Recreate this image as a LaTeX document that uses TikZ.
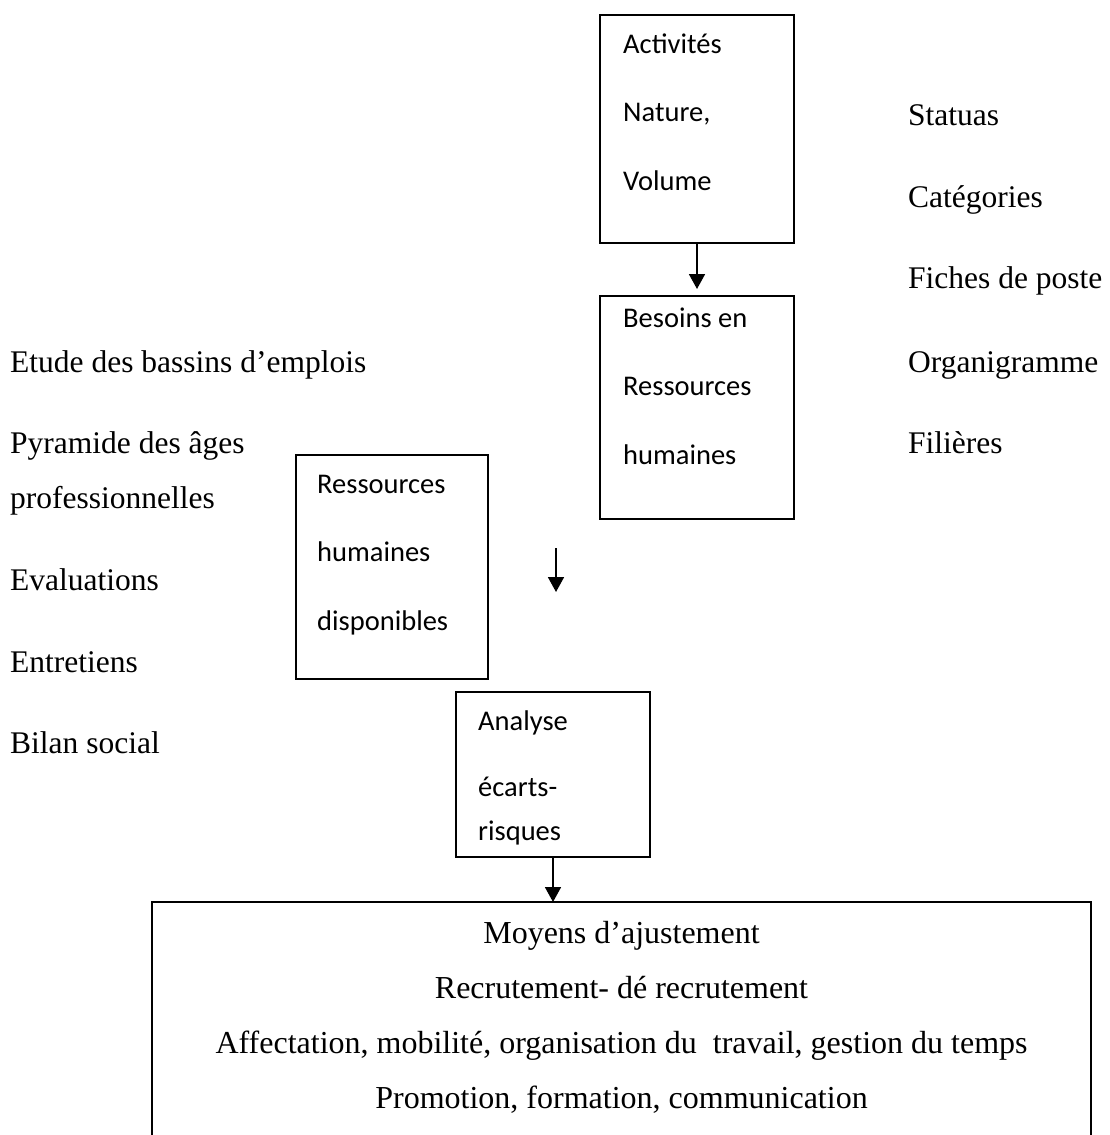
\documentclass[tikz,border=0pt]{standalone}
\usepackage{fontspec}
\setmainfont{Liberation Serif}
\newfontfamily\calibri{Carlito}
\usetikzlibrary{arrows.meta,positioning}

\tikzset{
  box/.style={draw, line width=1.5pt, inner sep=0pt, outer sep=0pt, anchor=north west},
  boxtext/.style={font=\calibri\fontsize{28.5}{68.5}\selectfont, align=left, anchor=base west, inner sep=0pt},
  side/.style={font=\fontsize{31.5}{40}\selectfont, anchor=base west, inner sep=0pt},
  flow/.style={-{Triangle[width=16pt,length=15pt]}, line width=1.8pt},
}

\begin{document}
\begin{tikzpicture}[x=1pt, y=-1pt]
  \useasboundingbox (0,0) rectangle (1110,1135);
  \clip (0,0) rectangle (1110,1135);

  % boxes of the flow
  \node[box, minimum width=194pt, minimum height=228pt] (act) at (600,15) {};
  \node[box, minimum width=194pt, minimum height=223pt] (bes) at (600,296) {};
  \node[box, minimum width=192pt, minimum height=224pt] (dispo) at (296,455) {};
  \node[box, minimum width=194pt, minimum height=165pt] (ana) at (456,692) {};
  \node[box, minimum width=939pt, minimum height=260pt] (moy) at (152,902) {};

  % texts, placed by the baseline of their last line
  \node[boxtext] (act txt) at ([shift={(23,175)}]act.north west) {Activités\\Nature,\\Volume};
  \node[boxtext] (bes txt) at ([shift={(23,168)}]bes.north west) {Besoins en\\Ressources\\humaines};
  \node[boxtext] (dispo txt) at ([shift={(21,175)}]dispo.north west) {Ressources\\humaines\\disponibles};
  \node[boxtext] (ana txt) at ([shift={(22,148)}]ana.north west) {Analyse\\[-2pt]écarts-\\[-25pt]risques};
  \node[font=\fontsize{32}{55}\selectfont, align=center, anchor=base, inner sep=0pt] (moy txt)
    at ([yshift=-206pt]moy.north) {Moyens d’ajustement\\Recrutement- dé recrutement\\Affectation, mobilité, organisation du\ \ travail, gestion du temps\\Promotion, formation, communication};

  % left column
  \node[side] (etude) at (10,372) {Etude des bassins d’emplois};
  \node[side] (pyr) at (10,453) {Pyramide des âges};
  \node[side] (prof) at (10,508) {professionnelles};
  \node[side] (eval) at (10,590) {Evaluations};
  \node[side] (entr) at (10,672) {Entretiens};
  \node[side] (bilan) at (10,753) {Bilan social};

  % right column
  \node[side] (stat) at (908,125) {Statuas};
  \node[side] (cat) at (908,207) {Catégories};
  \node[side] (fiche) at (908,288) {Fiches de poste};
  \node[side] (orga) at (908,372) {Organigramme};
  \node[side] (fil) at (908,453) {Filières};

  % arrows
  \coordinate (gap top) at (556,548);
  \coordinate (gap end) at (556,592);
  \draw[flow, shorten >=7pt] (act) -- (bes);
  \draw[flow] (gap top) -- (gap end);
  \draw[flow] (ana.south) -- (ana.south |- moy.north);
\end{tikzpicture}
\end{document}
